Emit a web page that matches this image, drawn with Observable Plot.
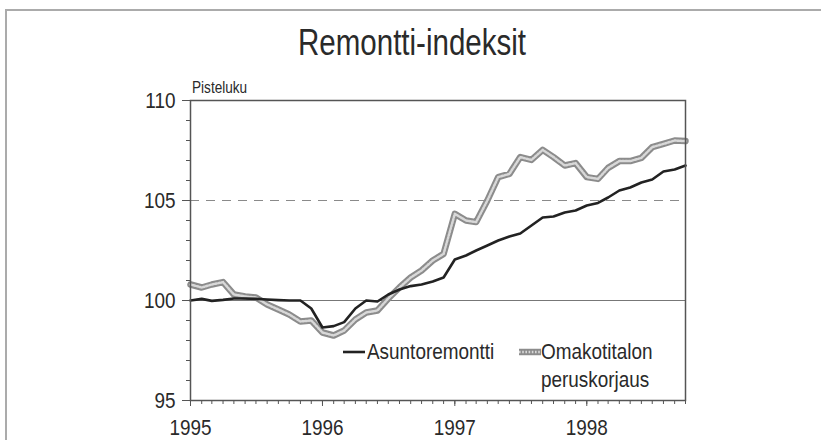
<!DOCTYPE html>
<html><head><meta charset="utf-8">
<script src="https://cdn.jsdelivr.net/npm/d3@7"></script>
<script src="https://cdn.jsdelivr.net/npm/@observablehq/plot@0.6"></script>
<style>
body{margin:0;background:#fff;}
#wrap{position:relative;width:821px;height:440px;overflow:hidden;font-family:"Liberation Sans Narrow","Arial Narrow","Liberation Sans",sans-serif;color:#2a2a2a;}
#border{position:absolute;left:5px;top:9px;width:900px;height:600px;border-top:2px solid #ababab;border-left:2px solid #ababab;}
#title{position:absolute;left:0;top:25px;width:824px;text-align:center;font-size:36px;line-height:36px;transform:scaleX(0.82);transform-origin:412px 0;}
#unit{position:absolute;left:192px;top:80px;font-size:16px;line-height:16px;transform:scaleX(0.85);transform-origin:0 0;}
#chart{position:absolute;left:0;top:0;}
.lg{position:absolute;font-size:22px;line-height:28px;white-space:nowrap;transform:scaleX(0.86);transform-origin:0 0;}
.sw{position:absolute;}
</style>
</head><body>
<div id="wrap">
  <div id="border"></div>
  <div id="title">Remontti-indeksit</div>
  <div id="unit">Pisteluku</div>
  <div id="chart"></div>
  <svg class="sw" style="left:341px;top:346px" width="26" height="12"><line x1="2" x2="24" y1="6" y2="6" stroke="#222" stroke-width="2.6"/></svg>
  <div class="lg" style="left:367px;top:338px">Asuntoremontti</div>
  <svg class="sw" style="left:516px;top:344px" width="28" height="16"><line x1="3" x2="25" y1="8" y2="8" stroke="#8c8c8c" stroke-width="6.5"/><line x1="3" x2="25" y1="8" y2="8" stroke="#d8d8d8" stroke-width="2.5" stroke-dasharray="1.6,1.6"/></svg>
  <div class="lg" style="left:541px;top:338px">Omakotitalon<br>peruskorjaus</div>
</div>
<script>
// Monthly observations, January 1995 – October 1998
const startMonth = "1995-01-01";
const endMonth = "1998-10-01";
const asuntoremontti = [
  100.0, 100.08, 99.98, 100.03, 100.1, 100.1, 100.08, 100.05, 100.02, 100.0, 100.0, 99.6,
  98.65, 98.72, 98.92, 99.6, 100.0, 99.95, 100.3, 100.55, 100.72, 100.8, 100.95, 101.15,
  102.05, 102.25, 102.5, 102.75, 103.0, 103.2, 103.35, 103.75, 104.15, 104.2, 104.4, 104.5,
  104.75, 104.88, 105.15, 105.5, 105.65, 105.9, 106.05, 106.45, 106.55, 106.75
];
const omakotitalon = [
  100.8, 100.65, 100.8, 100.92, 100.3, 100.2, 100.15, 99.8, 99.55, 99.3, 98.95, 99.0,
  98.4, 98.25, 98.5, 99.05, 99.4, 99.5, 100.1, 100.65, 101.15, 101.5, 102.0, 102.33,
  104.33, 104.0, 103.92, 105.0, 106.17, 106.33, 107.17, 107.03, 107.53, 107.17, 106.75, 106.87,
  106.17, 106.08, 106.63, 106.97, 106.97, 107.13, 107.67, 107.83, 108.0, 107.97
];
const yTickValues = [95, 100, 105, 110];
const xTickLabels = ["1995", "1996", "1997", "1998"];

const months = d3.utcMonth.range(new Date(startMonth), d3.utcDay.offset(new Date(endMonth), 1));
const data = months.map((d, i) => ({date: d, a: asuntoremontti[i], o: omakotitalon[i]}));
const yearDates = xTickLabels.map(s => new Date(s + "-01-01"));
const minorY = d3.range(yTickValues[0], yTickValues[yTickValues.length - 1] + 1);
const font = '"Liberation Sans Narrow","Arial Narrow","Liberation Sans",sans-serif';

const plot = Plot.plot({
  width: 821, height: 440,
  marginLeft: 190, marginRight: 136, marginTop: 100, marginBottom: 40,
  style: {fontFamily: font, fontSize: "22px", color: "#2a2a2a", background: "transparent"},
  x: {type: "utc", domain: [months[0], months[months.length - 1]], label: null, axis: null},
  y: {domain: [95, 110], label: null, axis: null},
  marks: [
    Plot.ruleY([100], {stroke: "#777", strokeWidth: 1.2}),
    Plot.ruleY([105], {stroke: "#8a8a8a", strokeWidth: 1.2, strokeDasharray: "9,7"}),
    Plot.line(data, {x: "date", y: "o", stroke: "#8c8c8c", strokeWidth: 6.5}),
    Plot.line(data, {x: "date", y: "o", stroke: "#d8d8d8", strokeWidth: 2.5, strokeDasharray: "1.6,1.6"}),
    Plot.line(data, {x: "date", y: "a", stroke: "#222", strokeWidth: 2.6}),
    Plot.frame({stroke: "#555", strokeWidth: 1.5}),
    Plot.axisY({ticks: minorY, tickSize: 4, tickFormat: () => "", label: null, stroke: "#555"}),
    Plot.axisY({ticks: yTickValues, tickSize: 8, tickPadding: 7, label: null, fontSize: 22, stroke: "#555"}),
    Plot.axisX({ticks: months, tickSize: 4, tickFormat: () => "", label: null, stroke: "#555"}),
    Plot.axisX({ticks: yearDates, tickSize: 6, tickPadding: 13, tickFormat: d3.utcFormat("%Y"), label: null, fontSize: 22, stroke: "#555"})
  ]
});
document.getElementById("chart").appendChild(plot);
// condense the tick label glyphs (narrow typeface look) without moving their anchors
plot.querySelectorAll("text").forEach(t => {
  const L = t.getComputedTextLength();
  if (L > 0) {
    t.setAttribute("textLength", (L * 0.86).toFixed(2));
    t.setAttribute("lengthAdjust", "spacingAndGlyphs");
  }
});
</script>
</body></html>
